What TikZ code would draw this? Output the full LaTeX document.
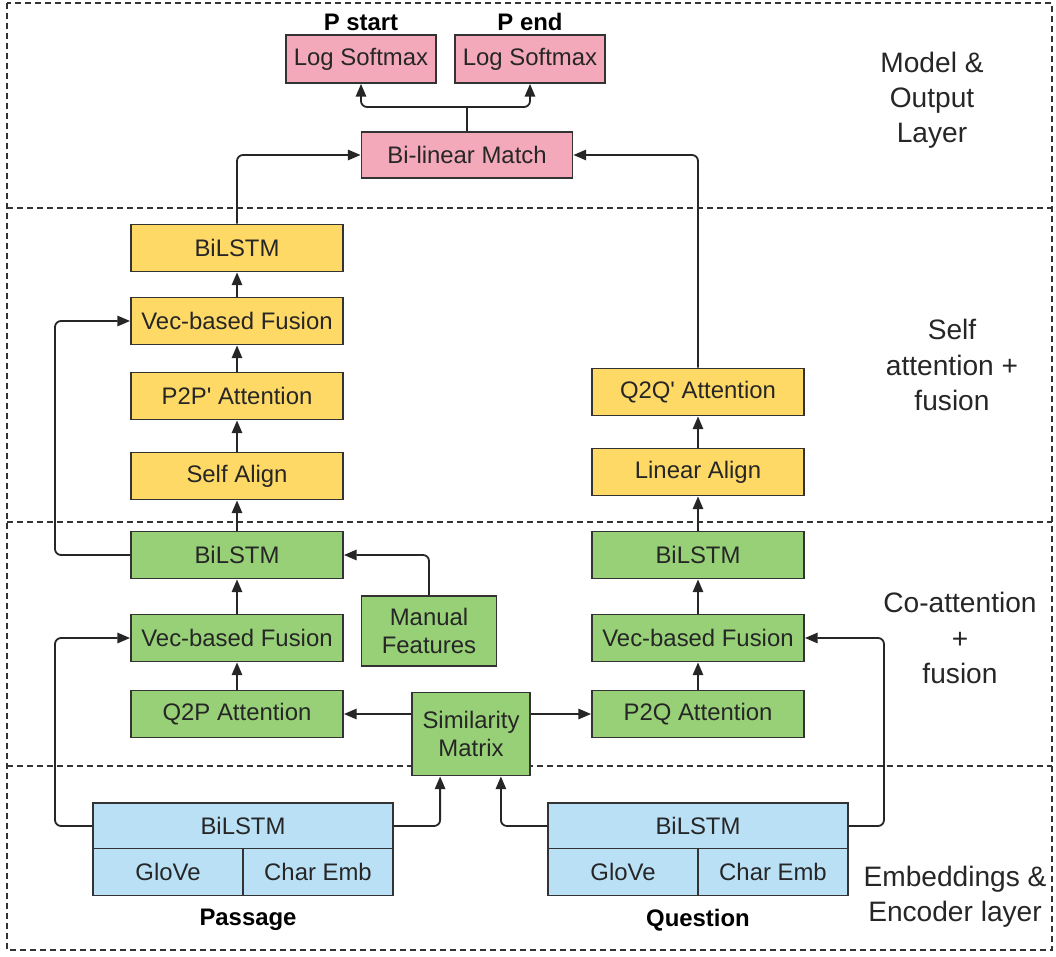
\documentclass[tikz,border=0pt]{standalone}
\usepackage{fontspec}
\setmainfont{Liberation Sans}
\usepackage{xcolor}
\usepackage{tikz}
\usetikzlibrary{arrows.meta,positioning,calc}
\definecolor{pinkfill}{HTML}{F4A9BB}
\definecolor{yellowfill}{HTML}{FFD966}
\definecolor{greenfill}{HTML}{97D077}
\definecolor{bluefill}{HTML}{BAE0F6}
\definecolor{edgegray}{HTML}{333333}
\tikzset{
  nodebox/.style={draw=edgegray, line width=0.45mm, minimum width=53mm, minimum height=11.75mm, inner sep=1pt, align=center, text=black!85, font=\fontsize{17}{20}\selectfont},
  pinknode/.style={nodebox, fill=pinkfill},
  yellownode/.style={nodebox, fill=yellowfill},
  greennode/.style={nodebox, fill=greenfill},
  bluenode/.style={nodebox, fill=bluefill},
  arc/.style={-{Triangle[length=3.2mm,width=2.6mm]}, line width=0.45mm, draw=black!85, rounded corners=1.5mm},
  plainarc/.style={line width=0.45mm, draw=black!85, rounded corners=1.5mm},
  layerline/.style={draw=edgegray, line width=0.4mm, dash pattern=on 1.5mm off 1mm},
  layertext/.style={align=center, text=black!85, font=\fontsize{20}{25}\selectfont},
  inputlabel/.style={font=\fontsize{17}{20}\selectfont\bfseries}
}

\begin{document}
\begin{tikzpicture}[x=0.25mm, y=-0.25mm]
  \useasboundingbox (0,0) rectangle (1056,957);
  % layer frame
  \draw[layerline] (7,3) rectangle (1052,950);
  \draw[layerline] (7,208) -- (1052,208);
  \draw[layerline] (7,522) -- (1052,522);
  \draw[layerline] (7,766) -- (1052,766);

  \node[layertext] (lmodel) at (932,100) {Model \&\\Output\\Layer};
  \node[layertext] (lself) at (952,365) {Self\\attention +\\fusion};
  \node[layertext] (lco) at (960,638) {Co-attention\\+\\fusion};
  \node[layertext] (lemb) at (955,897) {Embeddings \&\\Encoder layer};

  % output layer
  \node[pinknode, minimum width=37.5mm, minimum height=12mm] (lsm1) at (361,59) {Log Softmax};
  \node[pinknode, minimum width=37.5mm, minimum height=12mm] (lsm2) at (530,59) {Log Softmax};
  \node[inputlabel] (pstart) at (361,22) {P start};
  \node[inputlabel] (pend) at (530,22) {P end};
  \node[pinknode, minimum width=52.75mm, minimum height=11.5mm] (match) at (467,155) {Bi-linear Match};
  \coordinate (split) at (467,107);

  % self attention + fusion
  \node[yellownode] (ybil) at (237,248) {BiLSTM};
  \node[yellownode] (yfus) at (237,321) {Vec-based Fusion};
  \node[yellownode] (p2p) at (237,396) {P2P\textquotesingle{} Attention};
  \node[yellownode] (salign) at (237,476) {Self Align};
  \node[yellownode] (q2q) at (698,392) {Q2Q\textquotesingle{} Attention};
  \node[yellownode] (lalign) at (698,472) {Linear Align};

  % co-attention + fusion
  \node[greennode] (gbil1) at (237,555) {BiLSTM};
  \node[greennode] (gfus1) at (237,638) {Vec-based Fusion};
  \node[greennode] (q2p) at (237,714) {Q2P Attention};
  \node[greennode] (gbil2) at (698,555) {BiLSTM};
  \node[greennode] (gfus2) at (698,638) {Vec-based Fusion};
  \node[greennode] (p2q) at (698,714) {P2Q Attention};
  \node[greennode, minimum width=33.75mm, minimum height=17.5mm] (manual) at (429,631) {Manual\\Features};
  \node[greennode, minimum width=29.5mm, minimum height=20.75mm] (sim) at (471,734) {Similarity\\Matrix};

  % embeddings & encoder
  \node[bluenode, minimum width=75mm, minimum height=11.5mm] (pbil) at (243,826) {BiLSTM};
  \node[bluenode, minimum width=37.5mm] (pglove) at (168,872) {GloVe};
  \node[bluenode, minimum width=37.5mm] (pchar) at (318,872) {Char Emb};
  \node[inputlabel] (passage) at (248,920) {Passage};
  \node[bluenode, minimum width=75mm, minimum height=11.5mm] (qbil) at (698,826) {BiLSTM};
  \node[bluenode, minimum width=37.5mm] (qglove) at (623,872) {GloVe};
  \node[bluenode, minimum width=37.5mm] (qchar) at (773,872) {Char Emb};
  \node[inputlabel] (question) at (698,920) {Question};

  \coordinate (leftx) at (55,0);
  \coordinate (rightx) at (884,0);

  % connectors
  \draw[plainarc] (match.north) -- (split);
  \draw[arc] (split) -| (lsm1.south);
  \draw[arc] (split) -| (lsm2.south);
  \draw[arc] (ybil.north) |- (match.west);
  \draw[arc] (q2q.north) |- (match.east);

  \draw[arc] (yfus) -- (ybil);
  \draw[arc] (p2p) -- (yfus);
  \draw[arc] (salign) -- (p2p);
  \draw[arc] (gbil1) -- (salign);
  \draw[arc] (lalign) -- (q2q);
  \draw[arc] (gbil2) -- (lalign);
  \draw[arc] (gfus1) -- (gbil1);
  \draw[arc] (q2p) -- (gfus1);
  \draw[arc] (gfus2) -- (gbil2);
  \draw[arc] (p2q) -- (gfus2);

  \draw[arc] (gbil1.west) -- (gbil1.west -| leftx) |- (yfus.west);
  \draw[arc] (manual.north) |- (gbil1.east);
  \draw[arc] (sim.west |- q2p.east) -- (q2p.east);
  \draw[arc] (sim.east |- p2q.west) -- (p2q.west);

  \draw[arc] (pbil.west) -- (pbil.west -| leftx) |- (gfus1.west);
  \draw[arc] (pbil.east) -| ([xshift=7.25mm]sim.south west);
  \draw[arc] (qbil.west) -| ([xshift=-7.5mm]sim.south east);
  \draw[arc] (qbil.east) -- (qbil.east -| rightx) |- (gfus2.east);
\end{tikzpicture}
\end{document}
